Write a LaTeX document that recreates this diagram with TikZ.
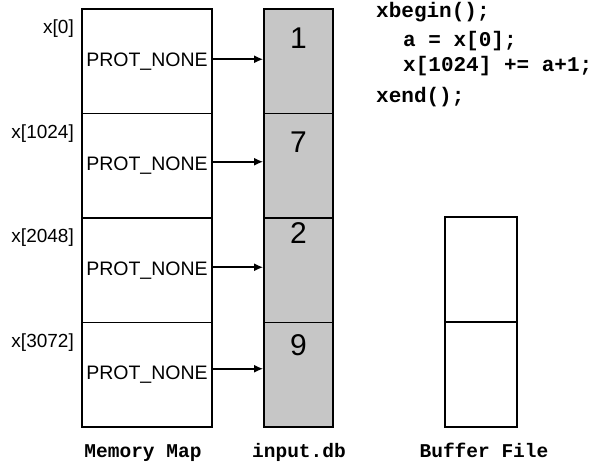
\documentclass[tikz,border=0pt]{standalone}
\usepackage{fontspec}
\setmainfont{Liberation Sans}
\setmonofont{Liberation Mono}
\usepackage{tikz}
\usetikzlibrary{arrows.meta, positioning}

\tikzset{
	membox/.style = {draw, line width = 1.8pt, minimum width = 130pt, minimum height = 104.5pt, inner sep = 0pt, font = \fontsize{19.5}{23}\selectfont},
	dbbox/.style = {draw, line width = 1.8pt, fill = gray!45, minimum width = 69pt, minimum height = 104.5pt, inner sep = 0pt},
	bufbox/.style = {draw, line width = 1.8pt, minimum width = 72pt, minimum height = 105pt, inner sep = 0pt},
	addr/.style = {anchor = east, inner sep = 0pt, font = \fontsize{19}{23}\selectfont},
	num/.style = {inner sep = 0pt, font = \fontsize{30}{36}\selectfont},
	code/.style = {anchor = base west, inner sep = 0pt, font = \fontsize{21}{25}\selectfont\ttfamily\bfseries},
	caption/.style = {anchor = base, inner sep = 0pt, font = \fontsize{19.5}{23}\selectfont\ttfamily\bfseries},
	ptr/.style = {-{Latex[length=9pt,width=8pt]}, line width = 1.6pt}
}

\begin{document}
\begin{tikzpicture}[x = 1pt, y = -1pt]
	\useasboundingbox (0,0) rectangle (605,465);
	% memory map
	\node[membox] (m0) at (147,61.25) {PROT\_NONE};
	\node[membox] (m1) at (147,165.75) {PROT\_NONE};
	\node[membox] (m2) at (147,270.25) {PROT\_NONE};
	\node[membox] (m3) at (147,374.75) {PROT\_NONE};
	\node[addr] (a0) at (74,29) {x[0]};
	\node[addr] (a1) at (74,133.5) {x[1024]};
	\node[addr] (a2) at (74,238) {x[2048]};
	\node[addr] (a3) at (74,342.5) {x[3072]};
	% input.db
	\node[dbbox] (d0) at (298.5,61.25) {};
	\node[dbbox] (d1) at (298.5,165.75) {};
	\node[dbbox] (d2) at (298.5,270.25) {};
	\node[dbbox] (d3) at (298.5,374.75) {};
	\node[num] (n0) at (298.5,38) {1};
	\node[num] (n1) at (298.5,142.5) {7};
	\node[num] (n2) at (298.5,233) {2};
	\node[num] (n3) at (298.5,345) {9};
	\draw[ptr] ([yshift=2pt]m0.east) -- ([yshift=2pt]d0.west);
	\draw[ptr] ([yshift=4pt]m1.east) -- ([yshift=4pt]d1.west);
	\draw[ptr] ([yshift=3pt]m2.east) -- ([yshift=3pt]d2.west);
	\draw[ptr] ([yshift=6pt]m3.east) -- ([yshift=6pt]d3.west);
	% buffer file
	\node[bufbox] (b0) at (481,269.5) {};
	\node[bufbox] (b1) at (481,374.5) {};
	% transaction
	\node[code] (t0) at (376,18) {xbegin();};
	\node[code] (t1) at (403,47) {a = x[0];};
	\node[code] (t2) at (403,72) {x[1024] += a+1;};
	\node[code] (t3) at (376,103) {xend();};
	% captions
	\node[caption] (l0) at (143,457) {Memory Map};
	\node[caption] (l1) at (299,457) {input.db};
	\node[caption] (l2) at (484,457) {Buffer File};
\end{tikzpicture}
\end{document}
